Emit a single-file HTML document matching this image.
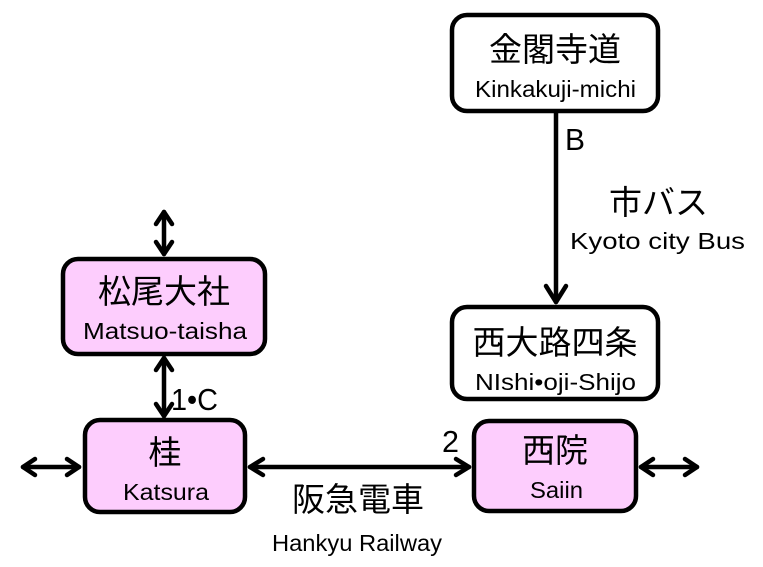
<!DOCTYPE html>
<html><head><meta charset="utf-8"><style>html,body{margin:0;padding:0;background:#fff}svg{display:block}</style></head>
<body>
<svg width="763" height="567" viewBox="0 0 763 567" xmlns="http://www.w3.org/2000/svg">
<style>
.j{font-family:"Liberation Sans","Noto Sans CJK JP",sans-serif;font-size:33px;fill:#000}
.l{font-family:"Liberation Sans Narrow","Liberation Sans",sans-serif;font-size:23px;fill:#000}
.n{font-family:"Liberation Sans",sans-serif;font-size:31px;fill:#000}
</style>
<g stroke="#000" stroke-width="4.5">
<rect x="452" y="15" width="206" height="96" rx="15" fill="#fff"/>
<rect x="452" y="307" width="206" height="92" rx="15" fill="#fff"/>
<rect x="474" y="421" width="162" height="90" rx="15" fill="#fdcdfd"/>
<rect x="63" y="259" width="202" height="95" rx="15" fill="#fdcdfd"/>
<rect x="85" y="420" width="160" height="92" rx="15" fill="#fdcdfd"/>
</g>
<g stroke="#000" stroke-width="4.5" fill="none" stroke-linecap="round" stroke-linejoin="round">
<line x1="556" y1="113" x2="556" y2="302"/><polyline points="546,286 556,302 566,286"/>
<line x1="164" y1="212" x2="164" y2="254"/><polyline points="156,224 164,212 172,224"/><polyline points="156,242 164,254 172,242"/>
<line x1="164" y1="358" x2="164" y2="416"/><polyline points="156,370 164,358 172,370"/><polyline points="156,404 164,416 172,404"/>
<line x1="23" y1="467" x2="79" y2="467"/><polyline points="35,459 23,467 35,475"/><polyline points="67,459 79,467 67,475"/>
<line x1="250" y1="467" x2="469" y2="467"/><polyline points="263,459 250,467 263,475"/><polyline points="456,459 469,467 456,475"/>
<line x1="641" y1="467" x2="697" y2="467"/><polyline points="653,459 641,467 653,475"/><polyline points="685,459 697,467 685,475"/>
</g>
<text class="j" x="555" y="61" text-anchor="middle">金閣寺道</text>
<text class="l" x="475" y="97" textLength="161" lengthAdjust="spacingAndGlyphs">Kinkakuji-michi</text>
<text class="j" x="555" y="354" text-anchor="middle">西大路四条</text>
<text class="l" x="475" y="390" textLength="161" lengthAdjust="spacingAndGlyphs">NIshi•oji-Shijo</text>
<text class="j" x="555" y="462" text-anchor="middle">西院</text>
<text class="l" x="530" y="498" textLength="53" lengthAdjust="spacingAndGlyphs">Saiin</text>
<text class="j" x="164" y="303" text-anchor="middle">松尾大社</text>
<text class="l" x="83" y="339" textLength="164" lengthAdjust="spacingAndGlyphs">Matsuo-taisha</text>
<text class="j" x="165" y="464" text-anchor="middle">桂</text>
<text class="l" x="123" y="500" textLength="86" lengthAdjust="spacingAndGlyphs">Katsura</text>
<text class="n" x="565" y="150" textLength="20" lengthAdjust="spacingAndGlyphs">B</text>
<text class="j" x="609" y="214">市バス</text>
<text class="l" x="570" y="249" textLength="175" lengthAdjust="spacingAndGlyphs">Kyoto city Bus</text>
<text class="n" x="171" y="410" textLength="47" lengthAdjust="spacingAndGlyphs">1•C</text>
<text class="n" x="442" y="452" textLength="17" lengthAdjust="spacingAndGlyphs">2</text>
<text class="j" x="292" y="511">阪急電車</text>
<text class="l" x="272" y="551" textLength="170" lengthAdjust="spacingAndGlyphs">Hankyu Railway</text>
</svg>
</body></html>
